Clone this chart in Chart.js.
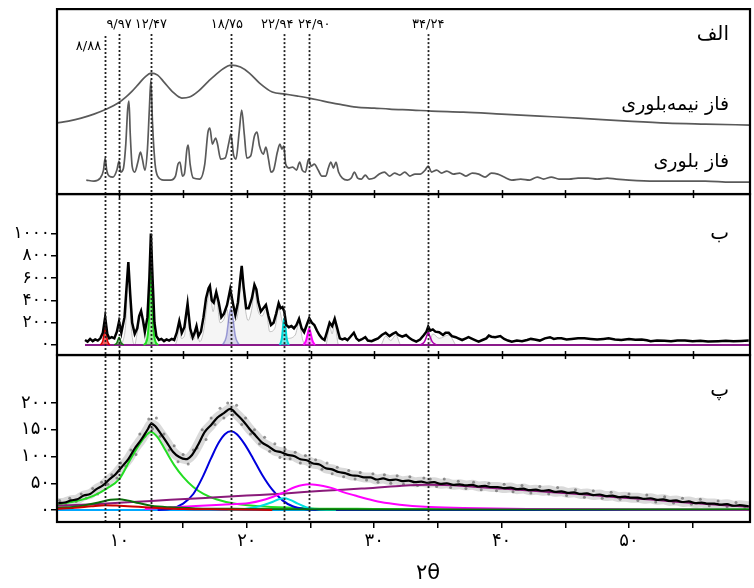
<!DOCTYPE html>
<html><head><meta charset="utf-8">
<script src="https://cdn.jsdelivr.net/npm/chart.js@4"></script>
<style>html,body{margin:0;padding:0;background:#fff;}canvas{display:block;}</style>
</head><body>
<canvas id="c" width="754" height="588"></canvas>
<script>
// ---------- DATA ----------
const peakPositions = [8.88, 9.97, 12.47, 18.75, 22.94, 24.90, 34.24];
const peakLabels = ['۸/۸۸', '۹/۹۷', '۱۲/۴۷', '۱۸/۷۵', '۲۲/۹۴', '۲۴/۹۰', '۳۴/۲۴'];

const xTickValues = [10, 15, 20, 25, 30, 35, 40, 45, 50, 55];
const xTickLabels = ['۱۰', '', '۲۰', '', '۳۰', '', '۴۰', '', '۵۰', ''];
const yTicksB = [0, 200, 400, 600, 800, 1000];
const yTickLabelsB = ['۰', '۲۰۰', '۴۰۰', '۶۰۰', '۸۰۰', '۱۰۰۰'];
const yTicksC = [0, 50, 100, 150, 200];
const yTickLabelsC = ['۰', '۵۰', '۱۰۰', '۱۵۰', '۲۰۰'];

// Panel A (arbitrary intensity)
const semiCrystalline = [[5.1,71],[6,73],[7,76],[8,80],[9.0,85],[9.9,91],[10.5,97],[11,103],[11.5,110],[12.0,117],[12.5,121],[13.0,119],[13.5,112],[14.2,102],[14.9,96],[15.5,97],[16.2,103],[17,113],[17.8,122],[18.5,128],[18.8,129],[19.5,127],[20.2,121],[21,111],[22,102],[23,100],[24,98],[24.9,96],[26,93],[27.2,90],[28.6,87],[30,86],[31.2,85],[33,84],[34.5,83],[37,82],[40,80],[43,78],[46,76],[49.9,73],[53,71],[56,70],[59.5,69]];
const crystalline = [[7.4,14],[8.0,13],[8.5,16],[8.75,24],[8.88,36],[9.0,24],[9.2,18],[9.5,17],[9.8,24],[9.97,33],[10.1,22],[10.3,25],[10.5,50],[10.65,85],[10.75,93],[10.85,60],[11.0,28],[11.2,22],[11.45,32],[11.65,42],[11.8,35],[12.0,24],[12.2,45],[12.35,85],[12.47,114],[12.6,70],[12.8,30],[13.0,18],[13.5,14],[14.0,14],[14.4,18],[14.6,30],[14.75,32],[14.95,18],[15.1,20],[15.3,45],[15.4,49],[15.55,30],[15.8,16],[16.3,15],[16.7,30],[16.95,62],[17.1,66],[17.3,50],[17.55,56],[17.7,50],[17.95,35],[18.3,36],[18.6,52],[18.75,60],[18.95,40],[19.15,35],[19.4,62],[19.6,84],[19.8,60],[20.0,36],[20.3,38],[20.6,58],[20.8,62],[21.0,48],[21.3,40],[21.5,47],[21.7,35],[21.9,22],[22.1,24],[22.4,42],[22.6,50],[22.75,45],[22.9,48],[23.05,30],[23.3,26],[23.6,27],[23.9,24],[24.15,32],[24.35,24],[24.6,22],[24.85,35],[25.05,28],[25.3,30],[25.6,24],[25.9,18],[26.2,18],[26.4,26],[26.6,32],[26.8,26],[27.0,32],[27.2,22],[27.5,16],[27.9,14],[28.2,16],[28.45,22],[28.7,16],[29.0,15],[29.3,19],[29.6,15],[30.0,16],[30.4,20],[30.8,22],[31.2,18],[31.6,21],[32.0,19],[32.4,22],[32.8,18],[33.2,20],[33.6,20],[34.0,24],[34.24,28],[34.5,22],[34.9,24],[35.3,21],[35.7,23],[36.2,20],[36.7,21],[37.2,18],[37.7,21],[38.2,20],[38.7,17],[39.2,21],[39.7,20],[40.2,17],[40.8,14],[41.5,15],[42.2,14],[42.8,17],[43.3,15],[43.9,17],[44.5,15],[45.3,15],[46.0,16],[46.8,16],[47.5,15],[48.3,16],[49.0,15],[50.0,14],[52,13],[54,13],[56,13],[58,12],[59.5,12]];

// Panel B (counts)
const observedB = [[7.3,45],[7.5,30],[7.7,55],[7.9,35],[8.1,50],[8.3,40],[8.5,60],[8.7,110],[8.88,250],[9.05,100],[9.2,60],[9.4,70],[9.6,60],[9.8,120],[9.97,210],[10.15,110],[10.4,250],[10.55,500],[10.7,745],[10.85,450],[11.0,200],[11.2,100],[11.4,150],[11.55,260],[11.7,305],[11.85,220],[12.0,120],[12.2,250],[12.35,600],[12.47,1000],[12.6,600],[12.75,200],[12.9,80],[13.1,45],[13.3,55],[13.5,35],[13.7,50],[13.9,40],[14.1,55],[14.3,45],[14.5,110],[14.7,215],[14.9,110],[15.1,160],[15.35,370],[15.55,150],[15.75,70],[15.9,110],[16.05,170],[16.2,80],[16.4,120],[16.6,250],[16.8,420],[17.0,510],[17.1,530],[17.25,400],[17.4,380],[17.6,475],[17.8,380],[18.0,250],[18.2,280],[18.45,360],[18.7,500],[18.9,380],[19.1,270],[19.3,380],[19.45,550],[19.6,710],[19.75,520],[19.95,330],[20.15,330],[20.4,420],[20.6,540],[20.75,500],[20.9,385],[21.1,300],[21.3,330],[21.5,360],[21.7,260],[21.9,180],[22.1,200],[22.3,280],[22.5,375],[22.65,330],[22.8,340],[22.94,300],[23.1,180],[23.3,160],[23.5,170],[23.7,150],[23.9,180],[24.1,235],[24.3,150],[24.5,115],[24.7,180],[24.9,240],[25.1,200],[25.3,180],[25.5,130],[25.7,90],[25.9,60],[26.1,45],[26.3,120],[26.5,200],[26.7,170],[26.9,235],[27.1,150],[27.3,60],[27.5,50],[27.7,60],[27.9,45],[28.1,70],[28.4,110],[28.6,60],[28.8,40],[29.0,50],[29.3,70],[29.5,40],[29.8,35],[30.0,45],[30.3,60],[30.6,90],[30.9,110],[31.2,80],[31.45,100],[31.7,115],[31.9,90],[32.2,75],[32.5,90],[32.8,60],[33.0,45],[33.3,30],[33.6,50],[33.9,90],[34.1,120],[34.24,165],[34.4,130],[34.6,140],[34.8,120],[35.1,115],[35.4,90],[35.6,110],[35.85,110],[36.1,80],[36.4,70],[36.6,60],[36.9,45],[37.2,60],[37.4,70],[37.7,55],[38.0,40],[38.2,30],[38.5,45],[38.8,60],[39.0,85],[39.2,75],[39.5,70],[39.9,80],[40.2,55],[40.5,40],[40.8,30],[41.2,40],[41.6,35],[42.0,45],[42.3,55],[42.6,50],[43.0,40],[43.4,60],[43.8,70],[44.1,55],[44.4,60],[44.7,60],[45.1,50],[45.5,55],[46.0,60],[46.5,60],[47.0,55],[47.5,50],[48.0,55],[48.4,60],[48.9,50],[49.4,45],[50.0,55],[50.5,48],[51.0,50],[51.4,42],[51.7,35],[52.2,40],[52.8,38],[53.3,35],[53.8,40],[54.4,40],[55.0,35],[55.6,38],[56.2,32],[57.0,35],[57.6,38],[58.2,33],[58.8,37],[59.4,40]];
const fittedGrayB = [[10.2,0],[10.5,200],[10.7,700],[10.9,200],[11.2,0],[11.35,80],[11.7,280],[12.0,60],[12.2,0],[14.3,0],[14.55,60],[14.7,190],[14.85,60],[15.1,80],[15.35,330],[15.6,60],[15.85,50],[16.05,150],[16.3,30],[16.6,120],[16.9,380],[17.1,480],[17.35,300],[17.6,430],[17.9,200],[18.2,230],[18.45,320],[18.6,200],[19.2,230],[19.45,450],[19.6,650],[19.8,400],[20.1,220],[20.4,330],[20.6,500],[20.85,320],[21.2,260],[21.5,320],[21.8,120],[22.2,150],[22.5,330],[22.8,200],[23.2,60],[23.8,90],[24.1,200],[24.4,40],[24.7,0],[26.2,0],[26.5,170],[26.7,100],[26.9,200],[27.2,0],[30.5,0],[30.9,80],[31.3,40],[31.7,90],[32.1,0],[34.3,0],[34.6,100],[35.1,60],[35.85,90],[36.4,0]];
const peakB888 = [[8.5,0],[8.7,40],[8.8,110],[8.88,160],[8.96,110],[9.06,40],[9.25,0]];
const peakB997 = [[9.6,0],[9.8,20],[9.97,70],[10.14,20],[10.35,0]];
const peakB1247 = [[11.9,0],[12.15,40],[12.3,200],[12.4,560],[12.47,915],[12.54,560],[12.64,200],[12.8,40],[13.05,0]];
const peakB1875 = [[18.1,0],[18.4,80],[18.6,250],[18.75,330],[18.9,250],[19.1,80],[19.4,0]];
const peakB2294 = [[22.6,0],[22.75,60],[22.85,170],[22.94,240],[23.03,170],[23.13,60],[23.3,0]];
const peakB2490 = [[24.45,0],[24.65,40],[24.8,110],[24.9,150],[25.0,110],[25.15,40],[25.35,0]];
const peakB3424 = [[33.6,0],[33.95,30],[34.15,90],[34.24,120],[34.33,90],[34.55,30],[34.9,0]];
const baselineB = [[7.3,0],[59.5,0]];

// Panel C (counts)
const observedC = [[5.2,13],[5.7,14],[6.2,18],[6.7,20],[7.2,27],[7.7,30],[8.2,39],[8.7,46],[9.2,57],[9.7,67],[10.2,81],[10.7,95],[11.2,115],[11.7,131],[12.2,150],[12.5,161],[12.8,157],[13.2,144],[13.7,127],[14.2,109],[14.7,99],[15.2,95],[15.7,103],[16.2,123],[16.7,146],[17.2,159],[17.7,173],[18.2,181],[18.7,189],[19.2,179],[19.7,167],[20.2,152],[20.7,139],[21.2,126],[21.7,119],[22.2,111],[22.7,108],[23.2,103],[23.7,101],[24.2,95],[24.7,93],[25.2,87],[25.7,85],[26.2,78],[26.7,76],[27.2,71],[27.7,69],[28.2,65],[28.7,64],[29.2,61],[29.7,61],[30.2,57],[30.7,59],[31.2,56],[31.7,57],[32.2,54],[32.7,55],[33.2,52],[33.7,53],[34.2,51],[34.7,52],[35.2,49],[35.7,50],[36.2,47],[36.7,48],[37.2,46],[37.7,47],[38.2,44],[38.7,45],[39.2,43],[39.7,43],[40.2,41],[40.7,42],[41.2,39],[41.7,40],[42.2,37],[42.7,38],[43.2,36],[43.7,37],[44.2,34],[44.7,35],[45.2,32],[45.7,33],[46.2,30],[46.7,31],[47.2,28],[47.7,29],[48.2,26],[48.7,27],[49.2,24],[49.7,25],[50.2,23],[50.7,23],[51.2,21],[51.7,22],[52.2,19],[52.7,20],[53.2,17],[53.7,18],[54.2,15],[54.7,16],[55.2,13],[55.7,14],[56.2,12],[56.7,12],[57.2,10],[57.7,11],[58.2,8],[58.7,9],[59.4,7]];
const scatterC = [[5.3,18],[5.8,10],[6.1,22],[6.6,16],[7.0,30],[7.4,22],[7.9,40],[8.3,30],[8.6,52],[9.1,48],[9.4,66],[9.8,60],[10.1,88],[10.5,82],[10.9,112],[11.3,104],[11.6,142],[12.0,138],[12.3,170],[12.6,152],[12.9,172],[13.2,138],[13.5,142],[13.9,112],[14.3,120],[14.6,90],[15.0,104],[15.4,86],[15.8,112],[16.1,116],[16.5,150],[16.8,132],[17.2,172],[17.5,160],[17.9,190],[18.2,172],[18.5,200],[18.9,178],[19.2,196],[19.6,160],[19.9,172],[20.3,142],[20.6,150],[21.0,124],[21.4,136],[21.8,110],[22.2,124],[22.6,98],[23.0,114],[23.4,96],[23.8,108],[24.2,88],[24.6,102],[25.0,84],[25.4,94],[25.9,76],[26.3,88],[26.7,68],[27.1,80],[27.6,62],[28.0,74],[28.5,58],[28.9,70],[29.4,56],[29.9,68],[30.3,52],[30.8,66],[31.3,50],[31.8,64],[32.3,48],[32.8,62],[33.4,46],[33.9,60],[34.4,58],[34.9,44],[35.5,58],[36.0,42],[36.6,54],[37.2,40],[37.8,52],[38.4,38],[39.0,50],[39.6,36],[40.2,48],[40.9,34],[41.6,46],[42.3,32],[43.0,44],[43.7,30],[44.4,42],[45.1,27],[45.8,38],[46.5,24],[47.2,36],[47.9,22],[48.6,33],[49.3,20],[50.0,30],[50.7,18],[51.4,28],[52.1,15],[52.8,25],[53.5,13],[54.2,22],[54.9,11],[55.6,20],[56.3,8],[57.0,17],[57.7,6],[58.4,14],[59.1,4]];
const compC1247 = [[5.1,10],[6,14],[7,19],[8,27],[9,40],[10,58],[10.8,92],[11.5,120],[12,137],[12.47,146],[13,136],[13.6,112],[14.3,84],[15,62],[15.8,43],[16.6,30],[17.6,20],[19,12],[20.5,8],[22.5,5],[25,3],[30,2],[40,1],[59.5,1]];
const compC1875 = [[13,0],[14,2],[15,12],[15.8,30],[16.5,60],[17.2,97],[17.8,126],[18.3,142],[18.75,147],[19.2,142],[19.8,124],[20.5,96],[21.2,66],[22,38],[22.8,18],[23.6,7],[24.5,2],[26,0],[59.5,0]];
const compC997 = [[5.1,4],[6.5,6],[7.5,10],[8.5,15],[9.3,19],[9.97,20],[10.6,18],[11.5,13],[12.5,8],[14,5],[16,3],[20,2],[30,1],[59.5,1]];
const compC888 = [[5.1,2],[6.5,4],[7.8,7],[8.88,9],[10,8],[11.5,6],[13,4],[15,2],[18,1],[22,0]];
const compC2294 = [[18.5,0],[19.8,2],[21,7],[21.9,14],[22.5,20],[22.94,22],[23.4,19],[24,12],[24.7,5],[25.6,1],[27,0]];
const compC2490 = [[12,2],[15,6],[18,10],[20.2,13],[21.5,20],[22.8,32],[23.8,43],[24.9,48],[26,45],[26.7,41],[27.5,34],[28.5,27],[29.4,21],[30.5,15],[32,10],[34,6],[37,4],[42,2],[50,1],[59.5,0]];
const compC3424 = [[5.1,8],[8,11],[11,15],[14,19],[17,23],[20,27],[23,31],[26,36],[29,40],[32,45],[34.24,47],[37,45],[40,40],[43,35],[46,30],[49,24],[52,19],[55,13],[57.5,9],[59.5,6]];
const baselineC = [[5.1,0],[59.5,0]];

// ---------- CHART ----------
const FONT = '"DejaVu Sans", sans-serif';
function line(data, axis, color, width, extra) {
  return Object.assign({ type: 'line', data, yAxisID: axis, borderColor: color, borderWidth: width,
    pointRadius: 0, fill: false, cubicInterpolationMode: 'monotone' }, extra || {});
}
const datasets = [
  line(semiCrystalline, 'yA', '#5a5a5a', 1.7),
  line(crystalline, 'yA', '#5a5a5a', 1.7),
  line(observedB, 'yB', '#000', 2.5, { order: 0, cubicInterpolationMode: 'default', tension: 0 }),
  line(fittedGrayB, 'yB', 'rgba(170,170,170,0.7)', 1, { order: 5, fill: 'origin', backgroundColor: 'rgba(210,210,210,0.22)' }),
  line(peakB888, 'yB', '#e00000', 1.5, { order: 2, fill: 'origin', backgroundColor: 'rgba(230,0,0,0.6)' }),
  line(peakB997, 'yB', '#117711', 1.5, { order: 2, fill: 'origin', backgroundColor: 'rgba(20,120,20,0.5)' }),
  line(peakB1247, 'yB', '#22dd22', 2, { order: 2, fill: 'origin', backgroundColor: 'rgba(40,220,40,0.45)' }),
  line(peakB1875, 'yB', 'rgba(90,90,190,0.55)', 1.5, { order: 3, fill: 'origin', backgroundColor: 'rgba(120,120,200,0.25)' }),
  line(peakB2294, 'yB', '#00d8d8', 2, { order: 2, fill: 'origin', backgroundColor: 'rgba(0,220,220,0.5)' }),
  line(peakB2490, 'yB', '#ff00ff', 2, { order: 2, fill: 'origin', backgroundColor: 'rgba(255,0,255,0.45)' }),
  line(peakB3424, 'yB', '#b000b0', 1.5, { order: 2 }),
  line(baselineB, 'yB', '#8a1a8a', 2, { order: 4 }),
  line(observedC, 'yC', 'rgba(150,150,150,0.35)', 10, { order: 9 }),
  line(scatterC, 'yC', 'rgba(0,0,0,0)', 0, { order: 8, showLine: false, pointRadius: 1.5, pointBackgroundColor: 'rgba(80,80,80,0.6)', pointBorderWidth: 0 }),
  line(baselineC, 'yC', '#00a8ff', 2, { order: 3 }),
  line(compC888, 'yC', '#cc0000', 2, { order: 2 }),
  line(compC997, 'yC', '#0a6e0a', 2, { order: 2 }),
  line(compC2294, 'yC', '#00e0e0', 2, { order: 2 }),
  line(compC2490, 'yC', '#ff00ff', 2, { order: 2 }),
  line(compC3424, 'yC', '#8a1a7a', 2, { order: 2 }),
  line(compC1875, 'yC', '#0000dd', 2, { order: 2 }),
  line(compC1247, 'yC', '#22dd22', 2, { order: 2 }),
  line(observedC, 'yC', '#000', 2.2, { order: 0 })
];

const overlay = {
  id: 'overlay',
  afterDatasetsDraw(chart) {
    const ctx = chart.ctx, xs = chart.scales.x, ca = chart.chartArea;
    const A = chart.scales.yA, B = chart.scales.yB, C = chart.scales.yC;
    ctx.save();
    // dashed reference lines
    ctx.setLineDash([2, 2]);
    ctx.strokeStyle = '#222';
    ctx.lineWidth = 1.8;
    peakPositions.forEach((p, i) => {
      const px = Math.round(xs.getPixelForValue(p)) + 0.5;
      ctx.beginPath();
      ctx.moveTo(px, i === 0 ? A.top + 27 : A.top + 25);
      ctx.lineTo(px, ca.bottom);
      ctx.stroke();
    });
    ctx.setLineDash([]);
    // panel frames
    ctx.strokeStyle = '#000';
    ctx.lineWidth = 2.2;
    [A, B, C].forEach(s => ctx.strokeRect(ca.left, s.top, ca.right - ca.left, s.bottom - s.top));
    // boundary ticks
    ctx.lineWidth = 1.5;
    [A.bottom, B.bottom].forEach(y => {
      xTickValues.forEach(v => {
        const px = Math.round(xs.getPixelForValue(v)) + 0.5;
        ctx.beginPath(); ctx.moveTo(px, y - 4); ctx.lineTo(px, y + 4); ctx.stroke();
      });
    });
    // peak labels
    const shift = [0, 0, 0, -4, -7, 5, 0];
    ctx.fillStyle = '#000';
    ctx.font = '13px ' + FONT;
    ctx.textBaseline = 'middle';
    peakPositions.forEach((p, i) => {
      const px = xs.getPixelForValue(p);
      if (i === 0) { ctx.textAlign = 'right'; ctx.fillText(peakLabels[i], px - 4, A.top + 38); }
      else { ctx.textAlign = 'center'; ctx.fillText(peakLabels[i], px + shift[i], A.top + 16); }
    });
    // panel labels
    ctx.textAlign = 'right';
    ctx.font = '20px ' + FONT;
    ctx.fillText('الف', 729, A.top + 26);
    ctx.font = '19px ' + FONT;
    ctx.fillText('فاز نیمه‌بلوری', 729, 105);
    ctx.fillText('فاز بلوری', 729, 162);
    ctx.font = '20px ' + FONT;
    ctx.fillText('ب', 729, B.top + 40);
    ctx.fillText('پ', 729, C.top + 36);
    // x title
    ctx.textAlign = 'center';
    ctx.font = '21px ' + FONT;
    ctx.fillText('۲θ', 428, 574);
    ctx.restore();
  }
};

new Chart(document.getElementById('c'), {
  data: { datasets },
  options: {
    responsive: false, animation: false, devicePixelRatio: 1,
    layout: { padding: { top: 9, left: 0, right: 3, bottom: 0 } },
    plugins: { legend: { display: false }, tooltip: { enabled: false } },
    scales: {
      x: {
        type: 'linear', position: 'bottom', min: 5.1, max: 59.5,
        afterBuildTicks: s => { s.ticks = xTickValues.map(v => ({ value: v })); },
        afterFit: s => { s.height = 66; },
        ticks: { callback: (v, i) => xTickLabels[i], font: { family: FONT, size: 18 }, color: '#000', padding: 3, maxRotation: 0, autoSkip: false },
        grid: { drawOnChartArea: false, drawTicks: true, tickLength: 6, color: '#000', lineWidth: 1.5 },
        border: { display: false }
      },
      yC: {
        type: 'linear', position: 'left', stack: 'panels', stackWeight: 167, min: -22.4, max: 289.7,
        afterBuildTicks: s => { s.ticks = yTicksC.map(v => ({ value: v })); },
        afterFit: s => { s.width = 57; },
        ticks: { callback: (v, i) => yTickLabelsC[i], font: { family: FONT, size: 18, lineHeight: 0.9 }, color: '#000', padding: 1, autoSkip: false },
        grid: { drawOnChartArea: false, drawTicks: true, tickLength: 6, color: '#000', lineWidth: 1.5 },
        border: { display: false }
      },
      yB: {
        type: 'linear', position: 'left', stack: 'panels', stackWeight: 161, min: -89.7, max: 1354,
        afterBuildTicks: s => { s.ticks = yTicksB.map(v => ({ value: v })); },
        afterFit: s => { s.width = 57; },
        ticks: { callback: (v, i) => yTickLabelsB[i], font: { family: FONT, size: 17, lineHeight: 0.9 }, color: '#000', padding: 1, autoSkip: false },
        grid: { drawOnChartArea: false, drawTicks: true, tickLength: 6, color: '#000', lineWidth: 1.5 },
        border: { display: false }
      },
      yA: {
        type: 'linear', position: 'left', stack: 'panels', stackWeight: 185, min: 0, max: 185,
        afterFit: s => { s.width = 57; },
        ticks: { display: false }, grid: { display: false }, border: { display: false }
      }
    }
  },
  plugins: [overlay]
});
</script>
</body></html>
